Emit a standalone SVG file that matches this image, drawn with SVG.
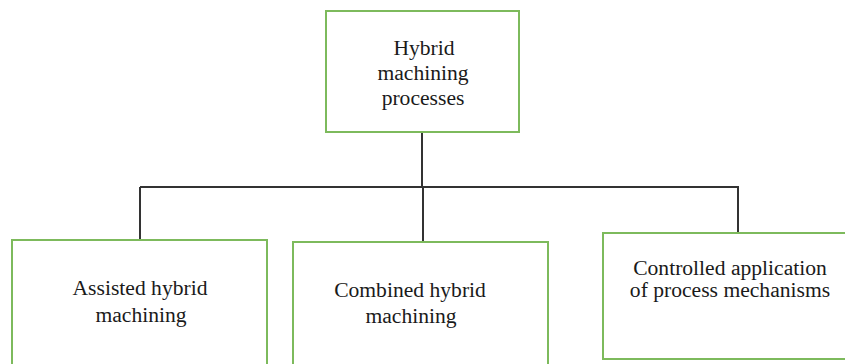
<svg xmlns="http://www.w3.org/2000/svg" width="845" height="364" viewBox="0 0 845 364">
  <style>
    .box { fill: #ffffff; stroke: #7dba5c; stroke-width: 2; }
    .link { fill: none; stroke: #333333; stroke-width: 2; }
    .label { font-family: "Liberation Serif", "Times New Roman", serif; font-size: 21.6px; fill: #1a1a1a; text-anchor: middle; }
  </style>
  <rect width="845" height="364" fill="#ffffff"/>

  <!-- connectors -->
  <g id="connectors">
    <path class="link" d="M422 133 V187"/>
    <path class="link" d="M140 187 H739"/>
    <path class="link" d="M140 187 V240"/>
    <path class="link" d="M423 187 V242"/>
    <path class="link" d="M738 187 V233"/>
  </g>

  <g id="root">
    <rect class="box" x="326" y="11" width="193" height="121"/>
    <text class="label" x="424" y="55">Hybrid</text>
    <text class="label" x="423" y="80">machining</text>
    <text class="label" x="423" y="105">processes</text>
  </g>

  <g id="assisted">
    <rect class="box" x="12" y="240" width="255" height="140"/>
    <text class="label" x="140" y="295">Assisted hybrid</text>
    <text class="label" x="141" y="322">machining</text>
  </g>

  <g id="combined">
    <rect class="box" x="293" y="242" width="255" height="140"/>
    <text class="label" x="410" y="297">Combined hybrid</text>
    <text class="label" x="411" y="323">machining</text>
  </g>

  <g id="controlled">
    <rect class="box" x="603" y="233" width="260" height="126"/>
    <text class="label" x="730" y="275">Controlled application</text>
    <text class="label" x="730" y="297">of process mechanisms</text>
  </g>
</svg>
